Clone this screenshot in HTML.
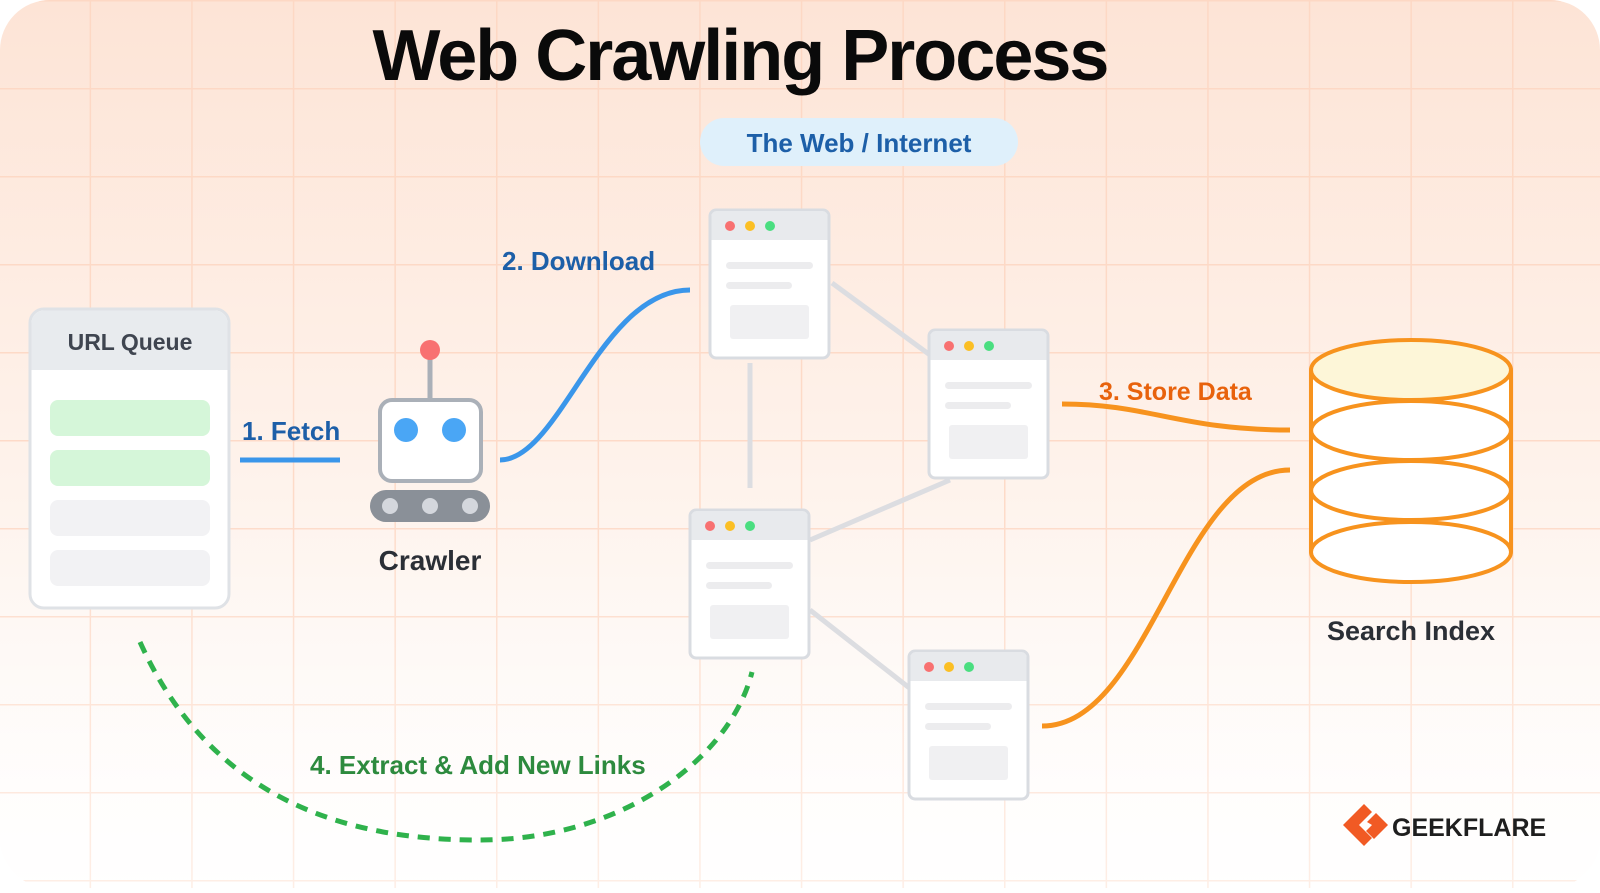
<!DOCTYPE html>
<html><head><meta charset="utf-8"><style>
html,body{margin:0;padding:0;}
body{width:1600px;height:888px;overflow:hidden;background:#fff;font-family:"Liberation Sans",sans-serif;}
</style></head><body>
<svg width="1600" height="888" viewBox="0 0 1600 888" xmlns="http://www.w3.org/2000/svg">
<defs>
<linearGradient id="bg" x1="0" y1="0" x2="0" y2="1">
<stop offset="0" stop-color="#fde4d6"/><stop offset="0.55" stop-color="#fef3ec"/><stop offset="1" stop-color="#ffffff"/>
</linearGradient>
<pattern id="grid" width="101.6" height="88" patternUnits="userSpaceOnUse" x="-12" y="0">
<path d="M0 0 V88 M0 0 H101.6" stroke="#fcd4bf" stroke-width="3" fill="none" opacity="0.8"/>
</pattern>
<linearGradient id="fade" x1="0" y1="0" x2="0" y2="1">
<stop offset="0" stop-color="#fff" stop-opacity="0"/><stop offset="1" stop-color="#fff" stop-opacity="0.5"/>
</linearGradient>
<g id="win">
<rect x="0" y="0" width="119" height="148" rx="6" fill="#fff" stroke="#d9dce1" stroke-width="3"/>
<path d="M1.5 30 V6 a5 5 0 0 1 5 -5 H112.5 a5 5 0 0 1 5 5 V30 Z" fill="#e8eaed"/>
<circle cx="20" cy="16" r="5" fill="#f87171"/><circle cx="40" cy="16" r="5" fill="#fbbf24"/><circle cx="60" cy="16" r="5" fill="#4ade80"/>
<rect x="16" y="52" width="87" height="7" rx="3.5" fill="#ececee"/>
<rect x="16" y="72" width="66" height="7" rx="3.5" fill="#ececee"/>
<rect x="20" y="95" width="79" height="34" rx="3" fill="#f0f0f2"/>
</g>
</defs>
<rect width="1600" height="888" rx="50" fill="url(#bg)"/>
<rect width="1600" height="888" rx="50" fill="url(#grid)"/>
<rect y="500" width="1600" height="388" fill="url(#fade)"/>

<text x="740" y="80" text-anchor="middle" font-size="72" font-weight="bold" fill="#0a0a0a" letter-spacing="-2">Web Crawling Process</text>

<rect x="700" y="118" width="318" height="48" rx="24" fill="#dff0fb"/>
<text x="859" y="152" text-anchor="middle" font-size="26" font-weight="bold" fill="#1d5fa8">The Web / Internet</text>

<!-- URL queue -->
<rect x="30" y="309" width="199" height="299" rx="14" fill="#fff" stroke="#dfe2e6" stroke-width="3"/>
<path d="M31.5 370 V323 a12.5 12.5 0 0 1 12.5 -12.5 H215 a12.5 12.5 0 0 1 12.5 12.5 V370 Z" fill="#e8ebee"/>
<text x="130" y="350" text-anchor="middle" font-size="23" font-weight="bold" fill="#3f4550">URL Queue</text>
<rect x="50" y="400" width="160" height="36" rx="8" fill="#d5f6d9"/>
<rect x="50" y="450" width="160" height="36" rx="8" fill="#d5f6d9"/>
<rect x="50" y="500" width="160" height="36" rx="8" fill="#f2f2f4"/>
<rect x="50" y="550" width="160" height="36" rx="8" fill="#f2f2f4"/>

<text x="242" y="440" font-size="26" font-weight="bold" fill="#1d5fa8">1. Fetch</text>
<line x1="240" y1="460" x2="340" y2="460" stroke="#3a96ea" stroke-width="5"/>

<!-- robot -->
<line x1="430" y1="350" x2="430" y2="400" stroke="#aab0b8" stroke-width="5"/>
<circle cx="430" cy="350" r="10" fill="#f87171"/>
<rect x="380" y="400" width="101" height="81" rx="12" fill="#fff" stroke="#aab0b8" stroke-width="4"/>
<circle cx="406" cy="430" r="12" fill="#4aa6f5"/><circle cx="454" cy="430" r="12" fill="#4aa6f5"/>
<rect x="370" y="490" width="120" height="32" rx="16" fill="#8a9098"/>
<circle cx="390" cy="506" r="8" fill="#d4d7dd"/><circle cx="430" cy="506" r="8" fill="#d4d7dd"/><circle cx="470" cy="506" r="8" fill="#d4d7dd"/>
<text x="430" y="570" text-anchor="middle" font-size="28" font-weight="bold" fill="#2b2f36">Crawler</text>

<!-- download curve -->
<path d="M500 460 C560 460 600 290 690 290" stroke="#3a96ea" stroke-width="5" fill="none"/>
<text x="502" y="270" font-size="26" font-weight="bold" fill="#1d5fa8">2. Download</text>

<!-- gray links -->
<g stroke="#dcdde1" stroke-width="5">
<line x1="832" y1="283" x2="930" y2="355"/>
<line x1="750" y1="363" x2="750" y2="488"/>
<line x1="810" y1="540" x2="950" y2="480"/>
<line x1="810" y1="610" x2="912" y2="690"/>
</g>
<use href="#win" x="710" y="210"/>
<use href="#win" x="929" y="330"/>
<use href="#win" x="690" y="510"/>
<use href="#win" x="909" y="651"/>

<!-- orange -->
<path d="M1062 404 C1150 404 1180 430 1290 430" stroke="#f7931e" stroke-width="5" fill="none"/>
<path d="M1042 726 C1150 726 1180 470 1290 470" stroke="#f7931e" stroke-width="5" fill="none"/>
<text x="1099" y="400" font-size="25" font-weight="bold" fill="#e8620c">3. Store Data</text>

<!-- cylinder -->
<g stroke="#f7931e" stroke-width="4">
<path d="M1311 370 V552 A100 30 0 0 0 1511 552 V370" fill="#fff"/>
<path d="M1311 430 A100 30 0 0 0 1511 430" fill="none"/>
<path d="M1311 431 A100 30 0 0 1 1511 431" fill="none"/>
<path d="M1311 490 A100 30 0 0 0 1511 490" fill="none"/>
<path d="M1311 491 A100 30 0 0 1 1511 491" fill="none"/>
<path d="M1311 552 A100 30 0 0 1 1511 552" fill="none"/>
<ellipse cx="1411" cy="370" rx="100" ry="30" fill="#fdf6d8"/>
</g>
<text x="1411" y="640" text-anchor="middle" font-size="27" font-weight="bold" fill="#2b2f36">Search Index</text>

<!-- green dashed -->
<path d="M140 642 C220 820 380 840 480 840 C620 840 730 760 752 672" stroke="#2fb24c" stroke-width="5" fill="none" stroke-dasharray="12 9"/>
<text x="310" y="774" font-size="26" font-weight="bold" fill="#2d8a3e">4. Extract &amp; Add New Links</text>

<!-- logo -->
<g transform="translate(1343 825)">
<path d="M0 0 L21 -21 L29 -13 L16 0 L29 13 L21 21 Z" fill="#f15a24"/>
<path d="M24 -3 L33 -12 L45 0 L31 14 L23 6 L29 0 Z" fill="#f15a24"/>
</g>
<text x="1392" y="836" font-size="25" font-weight="bold" fill="#1e1e1e">GEEKFLARE</text>
</svg>
</body></html>
